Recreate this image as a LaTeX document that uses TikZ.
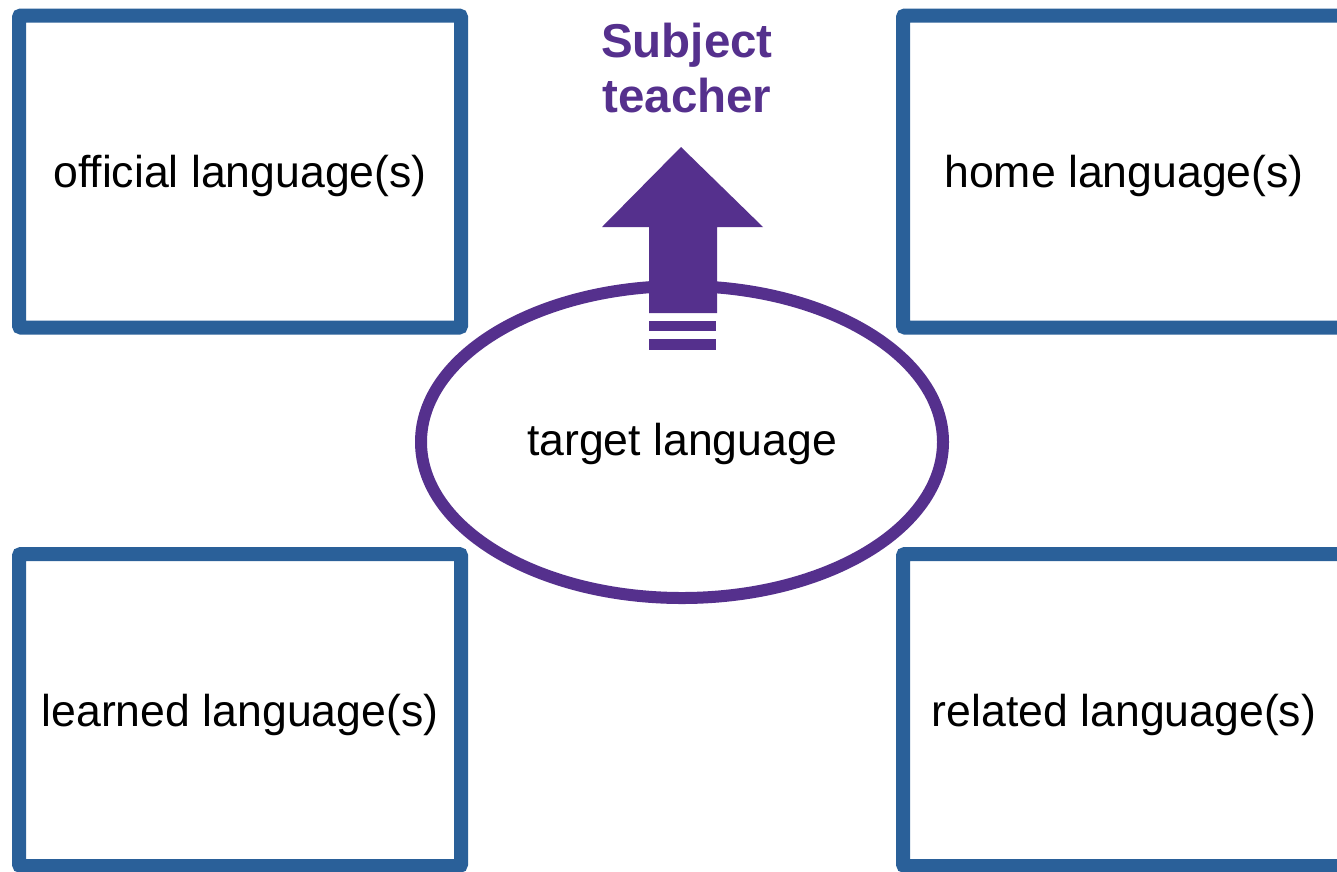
\documentclass[tikz,border=0pt]{standalone}
\usepackage{fontspec}
\setmainfont{Liberation Sans}
\usetikzlibrary{shapes.geometric}
\definecolor{boxblue}{HTML}{2A6099}
\definecolor{lpurple}{HTML}{55308D}
\tikzset{
  langbox/.style={draw=boxblue, line width=14pt, rectangle, rounded corners=2pt,
    minimum width=442pt, minimum height=312pt, inner sep=0pt,
    font=\fontsize{44.6}{53}\selectfont, text=black, text height=32pt, text depth=0pt},
  target/.style={draw=lpurple, line width=12pt, ellipse, minimum width=522pt,
    minimum height=312pt, inner sep=0pt, fill=white,
    font=\fontsize{44.6}{53}\selectfont, text=black, text height=26pt, text depth=0pt},
  teacher/.style={text=lpurple, align=center, inner sep=0pt,
    font=\fontsize{47.5}{55}\selectfont\bfseries},
  bigarrow/.style={fill=lpurple, draw=none}
}
\begin{document}
\begin{tikzpicture}[x=1pt, y=-1pt]
\useasboundingbox (0,0) rectangle (1337,871);
\clip (0,0) rectangle (1337,871);
\fill[white] (0,0) rectangle (1337,871);

\node[langbox] (official) at (240,171.5) {official language(s)};
\node[langbox] (home) at (1124,171.5) {home language(s)};
\node[langbox] (learned) at (240,710) {learned language(s)};
\node[langbox] (related) at (1124,710) {related language(s)};

\node[target] (tl) at (682,442) {target language};

\node[teacher, anchor=base] (st) at (687,112) {Subject\\teacher};

% arrow from target language up to Subject teacher
\coordinate (tip) at (681,147);
\fill[bigarrow] (tip) -- (763,227) -- (717,227) -- (717,313) -- (649,313) -- (649,227) -- (602,227) -- cycle;
\fill[bigarrow] (649,321) rectangle (716,331);
\fill[bigarrow] (649,339) rectangle (716,350);
\end{tikzpicture}
\end{document}
